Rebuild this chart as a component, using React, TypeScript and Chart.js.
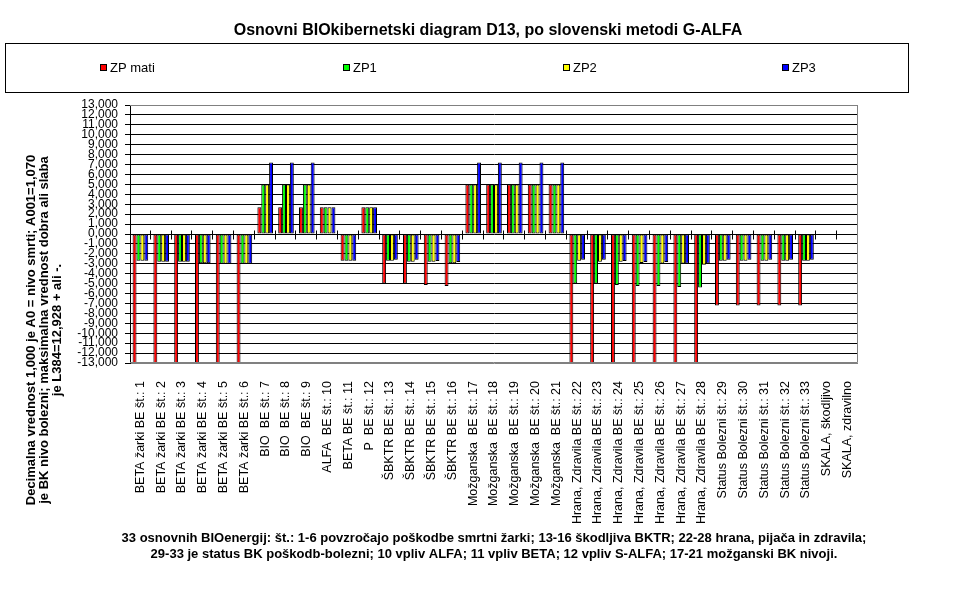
import React, { useEffect, useRef } from 'react';
import { Chart, registerables } from 'chart.js';

Chart.register(...registerables);

const categories = [
  'BETA žarki BE št.: 1', 'BETA žarki BE št.: 2', 'BETA žarki BE št.: 3',
  'BETA žarki BE št.: 4', 'BETA žarki BE št.: 5', 'BETA žarki BE št.: 6',
  'BIO  BE št.: 7', 'BIO  BE št.: 8', 'BIO  BE št.: 9',
  'ALFA  BE št.: 10', 'BETA BE št.: 11', 'P  BE št.: 12',
  'ŠBKTR BE št.: 13', 'ŠBKTR BE št.: 14', 'ŠBKTR BE št.: 15', 'ŠBKTR BE št.: 16',
  'Možganska  BE št.: 17', 'Možganska  BE št.: 18', 'Možganska  BE št.: 19',
  'Možganska  BE št.: 20', 'Možganska  BE št.: 21',
  'Hrana, Zdravila BE št.: 22', 'Hrana, Zdravila BE št.: 23', 'Hrana, Zdravila BE št.: 24',
  'Hrana, Zdravila BE št.: 25', 'Hrana, Zdravila BE št.: 26', 'Hrana, Zdravila BE št.: 27',
  'Hrana, Zdravila BE št.: 28',
  'Status Bolezni št.: 29', 'Status Bolezni št.: 30', 'Status Bolezni št.: 31',
  'Status Bolezni št.: 32', 'Status Bolezni št.: 33',
  'SKALA, škodljivo', 'SKALA, zdravilno',
];

const zpMati = [
  -13, -13, -13, -13, -13, -13,
  2.7, 2.7, 2.7,
  2.7, -2.7, 2.7,
  -5.0, -5.0, -5.13, -5.23,
  5.0, 5.0, 5.0, 5.0, 5.0,
  -13, -13, -13, -13, -13, -13, -13,
  -7.2, -7.2, -7.2, -7.2, -7.2,
  null, null,
];

const zp1 = [
  -2.7, -2.8, -2.8, -2.95, -3.0, -3.0,
  5.0, 5.0, 5.0,
  2.7, -2.7, 2.7,
  -2.7, -2.8, -2.8, -2.95,
  5.0, 5.0, 5.0, 5.0, 5.0,
  -5.0, -5.0, -5.13, -5.23, -5.23, -5.33, -5.4,
  -2.7, -2.7, -2.7, -2.7, -2.7,
  null, null,
];

const zp2 = [
  -2.7, -2.8, -2.8, -2.95, -3.0, -3.0,
  5.0, 5.0, 5.0,
  2.7, -2.7, 2.7,
  -2.7, -2.8, -2.8, -2.95,
  5.0, 5.0, 5.0, 5.0, 5.0,
  -2.7, -2.8, -2.8, -2.93, -2.97, -2.97, -3.1,
  -2.7, -2.7, -2.7, -2.7, -2.7,
  null, null,
];

const zp3 = [
  -2.7, -2.8, -2.8, -2.95, -3.0, -3.0,
  7.2, 7.2, 7.2,
  2.7, -2.7, 2.7,
  -2.6, -2.6, -2.73, -2.83,
  7.2, 7.2, 7.2, 7.2, 7.2,
  -2.6, -2.6, -2.73, -2.83, -2.83, -2.97, -2.97,
  -2.6, -2.6, -2.6, -2.6, -2.6,
  null, null,
];

const seriesNames = ['ZP mati', 'ZP1', 'ZP2', 'ZP3'];
const seriesColors = ['#FF0000', '#00FF00', '#FFFF00', '#0000FF'];
const seriesValues = [zpMati, zp1, zp2, zp3];

const yMin = -13;
const yMax = 13;
const yStep = 1;

const titleText = 'Osnovni BIOkibernetski diagram D13, po slovenski metodi G-ALFA';
const yTitleLines = [
  'Decimalna vrednost 1,000 je A0 = nivo smrti; A001=1,070',
  'je BK nivo bolezni; maksimalna vrednost dobra ali slaba',
  'je L384=12,928 + ali -.',
];
const footnoteLines = [
  '33 osnovnih BIOenergij: št.: 1-6 povzročajo poškodbe smrtni žarki; 13-16 škodljiva BKTR; 22-28 hrana, pijača in zdravila;',
  '29-33 je status BK poškodb-bolezni; 10 vpliv ALFA; 11 vpliv BETA; 12 vpliv S-ALFA; 17-21 možganski BK nivoji.',
];

const FONT = "'Liberation Sans', Arial, sans-serif";
const legendItemX = [100, 343, 563, 782];

const decorPlugin = {
  id: 'decor',
  afterDatasetsDraw(chart: any) {
    const { ctx, chartArea: a, scales } = chart;
    const x = scales.x;
    const y = scales.y;
    ctx.save();
    const y0 = Math.round(y.getPixelForValue(0)) + 0.5;
    ctx.strokeStyle = '#000';
    ctx.lineWidth = 1;
    ctx.beginPath();
    for (let k = 1; k <= categories.length; k++) {
      const px = Math.round(x.getPixelForValue(k - 0.5)) - 0.5;
      ctx.moveTo(px, y0 - 4);
      ctx.lineTo(px, y0 + 5);
    }
    ctx.stroke();
    ctx.strokeStyle = '#808080';
    ctx.beginPath();
    ctx.moveTo(a.left, a.top + 0.5);
    ctx.lineTo(a.right - 0.5, a.top + 0.5);
    ctx.lineTo(a.right - 0.5, a.bottom - 0.5);
    ctx.lineTo(a.left, a.bottom - 0.5);
    ctx.stroke();
    ctx.restore();
  },
  afterDraw(chart: any) {
    const { ctx } = chart;
    ctx.save();
    ctx.fillStyle = '#000';
    ctx.font = `bold 16px ${FONT}`;
    ctx.textAlign = 'center';
    ctx.textBaseline = 'middle';
    ctx.fillText(titleText, 488, 31);
    ctx.strokeStyle = '#000';
    ctx.lineWidth = 1;
    ctx.strokeRect(5.5, 43.5, 903, 49);
    ctx.font = `13px ${FONT}`;
    ctx.textAlign = 'left';
    chart.data.datasets.forEach((ds: any, i: number) => {
      const lx = legendItemX[i];
      ctx.fillStyle = ds.backgroundColor;
      ctx.fillRect(lx, 64, 7, 7);
      ctx.strokeStyle = '#000';
      ctx.strokeRect(lx + 0.5, 64.5, 6, 6);
      ctx.fillStyle = '#000';
      ctx.fillText(ds.label, lx + 10, 68);
    });
    ctx.font = `bold 13px ${FONT}`;
    ctx.textAlign = 'center';
    const yLineX = [31, 44, 57];
    yTitleLines.forEach((t, i) => {
      ctx.save();
      ctx.translate(yLineX[i], 330);
      ctx.rotate(-Math.PI / 2);
      ctx.fillText(t, 0, 0);
      ctx.restore();
    });
    const fy = [538, 554];
    footnoteLines.forEach((t, i) => {
      ctx.fillText(t, 494, fy[i]);
    });
    ctx.restore();
  },
};

export default function App() {
  const ref = useRef<HTMLCanvasElement>(null);

  useEffect(() => {
    if (!ref.current) return;
    const chart = new Chart(ref.current, {
      type: 'bar',
      data: {
        labels: categories,
        datasets: seriesNames.map((name, i) => ({
          label: name,
          data: seriesValues[i],
          backgroundColor: seriesColors[i],
          borderColor: '#000000',
          borderWidth: 1,
          borderSkipped: false,
          categoryPercentage: 0.75,
          barPercentage: 1.0,
        })),
      },
      options: {
        responsive: false,
        animation: false,
        layout: { padding: { top: 105, right: 119, bottom: 0, left: 0 } },
        plugins: {
          legend: { display: false },
          title: { display: false },
          tooltip: { enabled: false },
        },
        scales: {
          x: {
            grid: { display: false },
            border: { display: false },
            ticks: {
              autoSkip: false,
              maxRotation: 90,
              minRotation: 90,
              padding: 10,
              color: '#000',
              font: { family: FONT, size: 12.5 },
            },
            afterFit: (scale: any) => { scale.height = 237; },
          },
          y: {
            min: yMin,
            max: yMax,
            border: { display: true, color: '#000', width: 1 },
            grid: {
              color: (c: any) => (c.tick && Math.abs(c.tick.value) === yMax ? '#808080' : '#000000'),
              tickColor: '#000000',
              tickLength: 5,
              lineWidth: 1,
            },
            ticks: {
              stepSize: yStep,
              autoSkip: false,
              maxTicksLimit: 100,
              padding: 7,
              color: '#000',
              font: { family: FONT, size: 12 },
              callback: (v: any) => Number(v).toFixed(3).replace('.', ','),
            },
            afterFit: (scale: any) => { scale.width = 130; },
          },
        },
      },
      plugins: [decorPlugin],
    });
    return () => chart.destroy();
  }, []);

  return (
    <div style={{ position: 'absolute', left: 0, top: 0, width: 977, height: 600, background: '#fff' }}>
      <canvas ref={ref} width={977} height={600} style={{ display: 'block' }} />
    </div>
  );
}
